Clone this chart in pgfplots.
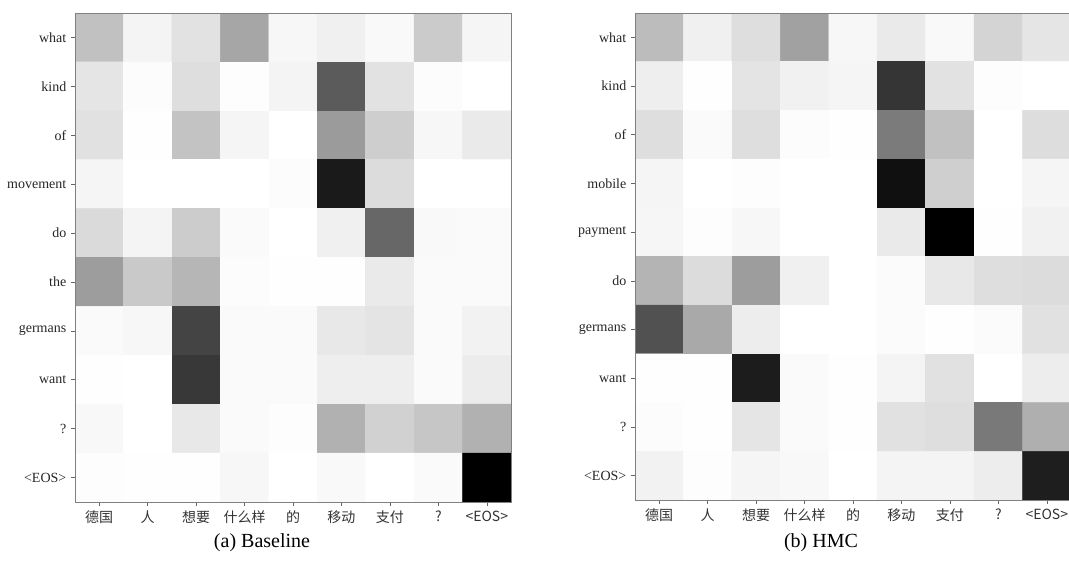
\documentclass[border=0pt]{standalone}
\usepackage{fontspec}
\setmainfont{Liberation Serif}
\newfontfamily\cjk{Noto Sans CJK SC}
\usepackage{pgfplots}
\usepackage{pgfplotstable}
\pgfplotsset{compat=1.18}

% gray level 0 (black) .. 255 (white); rows y=0 (what) .. 9 (<EOS>)
\pgfplotstableread{
x y c
0 0 192
1 0 242
2 0 224
3 0 165
4 0 245
5 0 238
6 0 247
7 0 202
8 0 243
0 1 227
1 1 250
2 1 220
3 1 251
4 1 242
5 1 90
6 1 224
7 1 250
8 1 255
0 2 223
1 2 252
2 2 194
3 2 243
4 2 253
5 2 154
6 2 205
7 2 245
8 2 232
0 3 243
1 3 254
2 3 253
3 3 254
4 3 250
5 3 26
6 3 218
7 3 255
8 3 255
0 4 216
1 4 242
2 4 203
3 4 248
4 4 253
5 4 238
6 4 102
7 4 247
8 4 248
0 5 156
1 5 200
2 5 181
3 5 250
4 5 252
5 5 252
6 5 232
7 5 248
8 5 248
0 6 248
1 6 245
2 6 68
3 6 248
4 6 248
5 6 230
6 6 226
7 6 248
8 6 240
0 7 252
1 7 253
2 7 56
3 7 248
4 7 248
5 7 236
6 7 236
7 7 248
8 7 234
0 8 246
1 8 253
2 8 230
3 8 248
4 8 251
5 8 176
6 8 208
7 8 197
8 8 176
0 9 251
1 9 252
2 9 252
3 9 245
4 9 255
5 9 247
6 9 253
7 9 248
8 9 0
}\baseline

\pgfplotstableread{
x y c
0 0 187
1 0 238
2 0 220
3 0 160
4 0 245
5 0 232
6 0 247
7 0 211
8 0 227
0 1 236
1 1 252
2 1 226
3 1 239
4 1 243
5 1 53
6 1 224
7 1 251
8 1 253
0 2 220
1 2 248
2 2 220
3 2 250
4 2 252
5 2 122
6 2 192
7 2 255
8 2 219
0 3 243
1 3 255
2 3 251
3 3 255
4 3 255
5 3 16
6 3 206
7 3 255
8 3 243
0 4 244
1 4 251
2 4 245
3 4 255
4 4 255
5 4 232
6 4 0
7 4 252
8 4 239
0 5 179
1 5 218
2 5 156
3 5 238
4 5 255
5 5 249
6 5 230
7 5 220
8 5 218
0 6 80
1 6 168
2 6 235
3 6 255
4 6 255
5 6 249
6 6 252
7 6 249
8 6 223
0 7 252
1 7 252
2 7 28
3 7 248
4 7 252
5 7 242
6 7 223
7 7 253
8 7 235
0 8 250
1 8 252
2 8 227
3 8 248
4 8 252
5 8 223
6 8 220
7 8 120
8 8 174
0 9 240
1 9 251
2 9 243
3 9 246
4 9 255
5 9 242
6 9 242
7 9 235
8 9 30
}\hmc

\pgfplotsset{hm/.style={
  scale only axis, width=327pt, anchor=south west,
  xmin=-0.5, xmax=8.5, ymin=-0.5, ymax=9.5, y dir=reverse,
  enlargelimits=false, axis on top,
  colormap={bw}{color=(black) color=(white)},
  point meta min=0, point meta max=255,
  xtick={0,...,8}, ytick={0,...,9},
  xticklabels={德国,人,想要,什么样,的,移动,支付,?,<EOS>},
  tick align=outside, tick pos=left,
  major tick length=3pt,
  tick style={black!60, thin},
  axis line style={black!50, thin},
  xticklabel style={font=\cjk\fontsize{10.5}{12}\selectfont, text=black!80},
  yticklabel style={font=\fontsize{10.5}{12}\selectfont, text=black!85},
}}

\begin{document}
\begin{tikzpicture}
\useasboundingbox (0pt,0pt) rectangle (801.75pt,423.75pt);
\begin{axis}[hm, at={(56.25pt,47.25pt)}, height=366.75pt,
  yticklabels={what,kind,of,movement,do,the,germans,want,?,<EOS>}]
\addplot[matrix plot*, mesh/cols=9, point meta=explicit] table[meta=c]{\baseline};
\end{axis}
\begin{axis}[hm, at={(476.25pt,48.75pt)}, height=365.25pt,
  yticklabels={what,kind,of,mobile,payment,do,germans,want,?,<EOS>}]
\addplot[matrix plot*, mesh/cols=9, point meta=explicit] table[meta=c]{\hmc};
\end{axis}
\node[font=\fontsize{15}{18}\selectfont] at (196.5pt,17pt) {(a) Baseline};
\node[font=\fontsize{15}{18}\selectfont] at (615.75pt,17pt) {(b) HMC};
\end{tikzpicture}
\end{document}
